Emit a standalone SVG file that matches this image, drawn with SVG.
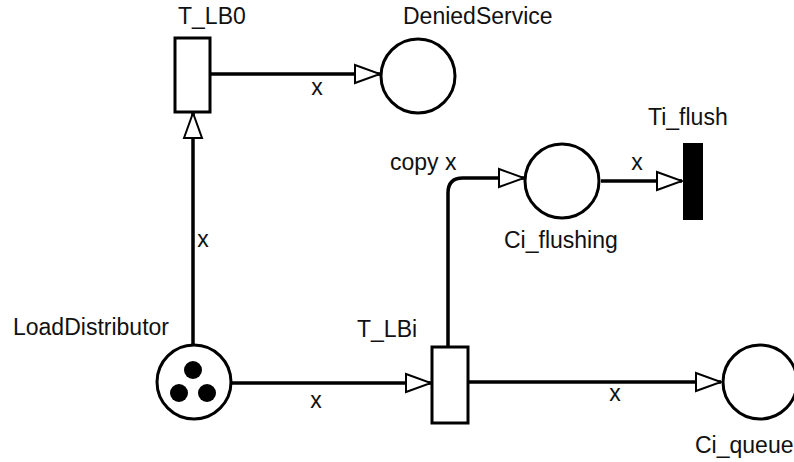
<svg xmlns="http://www.w3.org/2000/svg" width="794" height="462" viewBox="0 0 794 462">
<defs>
<marker id="arr" markerWidth="28" markerHeight="22" refX="26" refY="11" orient="auto" markerUnits="userSpaceOnUse">
<path d="M1,2 L26,11 L1,20 Z" fill="#fff" stroke="#000" stroke-width="2"/>
</marker>
</defs>
<style>
text{font-family:"Liberation Sans",Arial,sans-serif;font-size:23px;fill:#111}
.pl{fill:#fff;stroke:#000;stroke-width:3}
.tr{fill:#fff;stroke:#000;stroke-width:3}
.tk{fill:#000}
.arc{fill:none;stroke:#000;stroke-width:3.5;marker-end:url(#arr)}
</style>
<rect width="794" height="462" fill="#fff"/>
<g id="connectors">
<path class="arc" d="M211,74 L380,74"/>
<path class="arc" d="M193,344 L193,113"/>
<path class="arc" d="M232,383 L431,383"/>
<path class="arc" d="M448,346 L448,193 Q448,178 463,178 L524,178"/>
<path class="arc" d="M601,181 L682,181"/>
<path class="arc" d="M469,382 L721,382"/>
<text x="317" y="95" text-anchor="middle">x</text>
<text x="203" y="247" text-anchor="middle">x</text>
<text x="390" y="170">copy x</text>
<text x="637" y="170" text-anchor="middle">x</text>
<text x="316" y="408" text-anchor="middle">x</text>
<text x="615" y="401" text-anchor="middle">x</text>
</g>
<g id="T_LB0">
<rect class="tr" x="175" y="38" width="35" height="74"/>
<text x="178" y="24">T_LB0</text>
</g>
<g id="DeniedService">
<circle class="pl" cx="418" cy="76" r="37"/>
<text x="403" y="24">DeniedService</text>
</g>
<g id="Ci_flushing">
<circle class="pl" cx="562" cy="181" r="37"/>
<text x="504" y="248">Ci_flushing</text>
</g>
<g id="Ti_flush">
<rect x="683" y="143" width="20" height="77" fill="#000"/>
<text x="648" y="125">Ti_flush</text>
</g>
<g id="LoadDistributor">
<circle class="pl" cx="194" cy="382" r="37"/>
<circle class="tk" cx="193" cy="370" r="9"/>
<circle class="tk" cx="179" cy="393" r="9"/>
<circle class="tk" cx="207" cy="393" r="9"/>
<text x="13" y="335">LoadDistributor</text>
</g>
<g id="T_LBi">
<rect class="tr" x="432" y="347" width="36" height="76"/>
<text x="357" y="337">T_LBi</text>
</g>
<g id="Ci_queue">
<circle class="pl" cx="760" cy="382" r="37"/>
<text x="695" y="453">Ci_queue</text>
</g>
</svg>
